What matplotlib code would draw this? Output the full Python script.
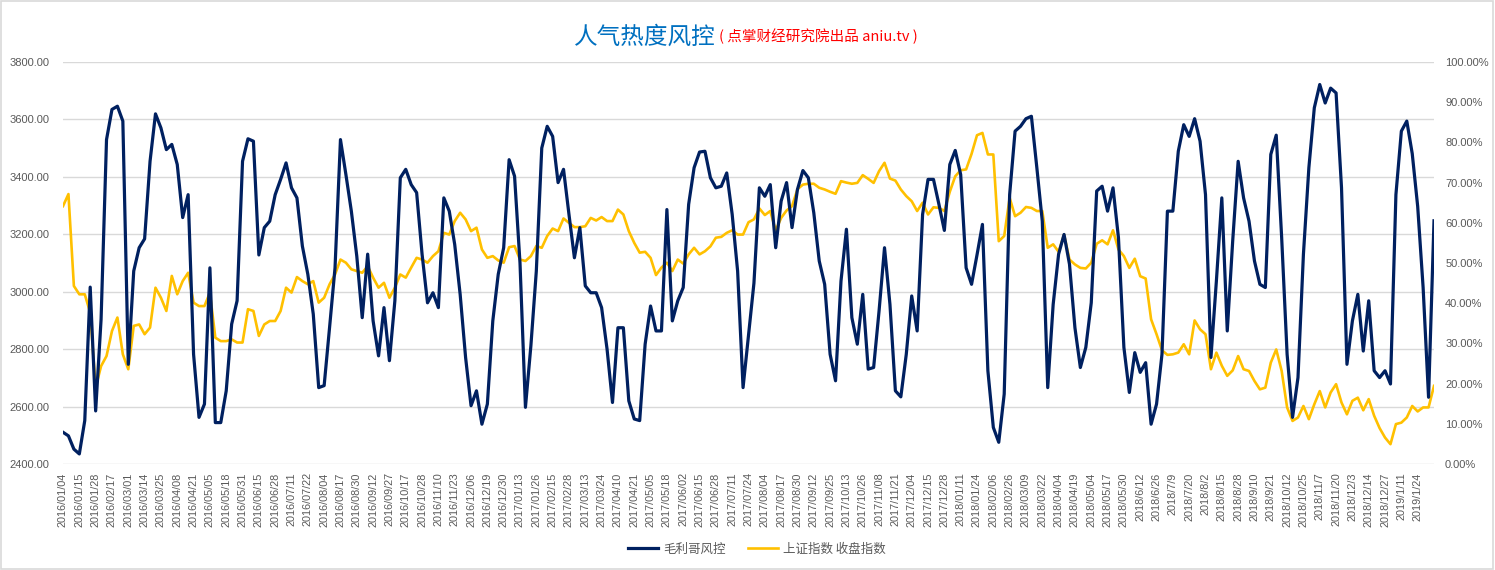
import numpy as np
import matplotlib
matplotlib.use("Agg")
import matplotlib.pyplot as plt
from matplotlib.ticker import PercentFormatter, FormatStrFormatter
from matplotlib.patches import Rectangle

plt.rcParams['font.family'] = ['Liberation Sans', 'Noto Sans CJK SC', 'DejaVu Sans']

# one value every 3 trading days, 2016/01/04 .. 2019/02
tick_labels = [
    "2016/01/04", "2016/01/15", "2016/01/28", "2016/02/17", "2016/03/01", "2016/03/14", "2016/03/25",
    "2016/04/08", "2016/04/21", "2016/05/05", "2016/05/18", "2016/05/31", "2016/06/15", "2016/06/28",
    "2016/07/11", "2016/07/22", "2016/08/04", "2016/08/17", "2016/08/30", "2016/09/12", "2016/09/27",
    "2016/10/17", "2016/10/28", "2016/11/10", "2016/11/23", "2016/12/06", "2016/12/19", "2016/12/30",
    "2017/01/13", "2017/01/26", "2017/02/15", "2017/02/28", "2017/03/13", "2017/03/24", "2017/04/10",
    "2017/04/21", "2017/05/05", "2017/05/18", "2017/06/02", "2017/06/15", "2017/06/28", "2017/07/11",
    "2017/07/24", "2017/08/04", "2017/08/17", "2017/08/30", "2017/09/12", "2017/09/25", "2017/10/13",
    "2017/10/26", "2017/11/08", "2017/11/21", "2017/12/04", "2017/12/15", "2017/12/28",
    "2018/01/11", "2018/01/24", "2018/02/06", "2018/02/26", "2018/03/09", "2018/03/22", "2018/04/04",
    "2018/04/19", "2018/05/04", "2018/05/17", "2018/05/30", "2018/6/12", "2018/6/26", "2018/7/9",
    "2018/7/20", "2018/8/2", "2018/8/15", "2018/8/28", "2018/9/10", "2018/9/21", "2018/10/12",
    "2018/10/25", "2018/11/7", "2018/11/20", "2018/12/3", "2018/12/14", "2018/12/27",
    "2019/1/11", "2019/1/24",
]

# 毛利哥风控 (right axis, %)
risk = [
    7.9, 7.0, 3.7, 2.5, 10.8, 44, 13.2, 36, 80.7, 88.2, 89.0, 85.3, 24.8, 48, 53.8, 56, 75.3, 87.1, 83.6, 78.2,
    79.5, 74.5, 61.3, 67, 27.3, 11.6, 14.9, 48.8, 10.3, 10.3, 18.2, 34.8, 40.6, 75.3, 80.9, 80.3, 52, 58.8, 60.4, 67,
    70.8, 74.9,
    68.7, 66.2, 54.2, 47.2, 37.3, 19.0, 19.5, 34.0, 48.8, 80.7, 72, 62.9, 51.7, 36.4, 52.2, 35.6, 26.9, 38.9, 25.7, 40.6,
    71.2, 73.3, 69.5, 67.5, 52.2, 40.1, 42.6, 38.9, 66.2, 62.9, 54.6, 42.2, 26.5, 14.5, 18.2, 9.9, 14.9, 35.6, 47.2, 53.8,
    75.7, 71.6,
    50, 14.1, 29.4, 48, 78.6, 84, 81.5, 70, 73.3, 62.1, 51.3, 58.8, 44.3, 42.6, 42.6, 38.9, 28.6, 15.3, 33.9, 33.9,
    15.7, 11.2, 10.8, 29.8, 39.3, 33.1, 33.1, 63.3, 35.6, 40.6, 43.9, 64.6, 73.7, 77.6, 77.8, 71.2, 68.7, 69.1, 72.4, 62.1,
    48, 19.0,
    32, 45, 68.7, 66.6, 69.5, 53.8, 65.4, 70, 58.8, 68.3, 73, 71.2, 62.5, 50.5, 44.7, 27.3, 20.7, 45.5, 58.4, 36.4,
    29.8, 42.2, 23.6, 24, 38.1, 53.8, 39.7, 18.2, 16.7, 27.3, 41.8, 33.1, 62.1, 70.8, 70.8, 64.6, 58.1, 74.5, 78, 72,
    48.8, 44.7,
    52, 59.6, 23.2, 9.1, 5.4, 17.4, 67, 82.8, 84, 85.9, 86.5, 73.7, 60.4, 19.0, 39.7, 52.2, 57.1, 49.7, 33.9, 24,
    29, 40.1, 67.9, 69.1, 62.9, 68.7, 56.3, 29, 17.8, 27.7, 22.8, 25.2, 9.9, 14.9, 27.3, 62.9, 62.9, 77.8, 84.4, 81.5,
    85.9, 80.3, 67,
    26.5, 45.5, 66.2, 33.1, 55.5, 75.3, 66.2, 60.4, 50.5, 44.7, 43.9, 77, 81.8, 56.3, 27.3, 11.6, 21.5, 52.2, 73.7, 88.6,
    94.4, 89.8, 93.5, 92.3, 68.7, 24.8, 35.6, 42.2, 28.1, 40.6, 23.2, 21.5, 23.2, 19.9, 67, 82.8, 85.3, 77.2, 64.1, 43.9,
    16.6, 60.5,
]

# 上证指数 收盘指数 (left axis)
sh_close = [
    3298, 3340, 3020, 2991, 2991, 2927, 2666, 2741, 2776, 2863, 2910, 2782, 2730, 2881, 2886, 2852, 2875, 3014, 2979, 2933,
    3055, 2991, 3037, 3066, 2962, 2950, 2950, 2997, 2840, 2828, 2828, 2834, 2823, 2823, 2939, 2933, 2846, 2886, 2898, 2898,
    2933, 3014,
    2997, 3051, 3037, 3026, 3037, 2962, 2979, 3026, 3060, 3112, 3101, 3078, 3072, 3066, 3089, 3049, 3014, 3031, 2979, 3014,
    3060, 3049, 3084, 3118, 3112, 3101, 3124, 3141, 3205, 3199, 3246, 3275, 3252, 3211, 3223, 3147, 3118, 3124, 3109, 3101,
    3155, 3159,
    3112, 3107, 3124, 3159, 3153, 3194, 3220, 3211, 3255, 3240, 3225, 3225, 3228, 3257, 3248, 3260, 3246, 3246, 3286, 3269,
    3211, 3170, 3136, 3139, 3118, 3058, 3084, 3101, 3072, 3112, 3098, 3130, 3153, 3130, 3141, 3158, 3188, 3191, 3205, 3214,
    3199, 3199,
    3242, 3252, 3290, 3267, 3281, 3213, 3257, 3283, 3298, 3357, 3373, 3376, 3376, 3362, 3356, 3348, 3341, 3385, 3380, 3376,
    3379, 3406, 3393, 3379, 3420, 3449, 3394, 3387, 3356, 3333, 3315, 3281, 3310, 3269, 3294, 3292, 3281, 3348, 3402, 3423,
    3426, 3480,
    3545, 3553, 3478, 3478, 3176, 3194, 3327, 3263, 3275, 3295, 3292, 3281, 3281, 3153, 3165, 3139, 3199, 3112, 3095, 3083,
    3081, 3101, 3167, 3179, 3165, 3214, 3147, 3124, 3083, 3115, 3054, 3046, 2904, 2852, 2796, 2780, 2782, 2788, 2817, 2782,
    2900, 2869, 2852,
    2730, 2788, 2742, 2707, 2726, 2776, 2730, 2724, 2689, 2660, 2666, 2753, 2799, 2724, 2597, 2550, 2562, 2602, 2556, 2608,
    2654, 2597, 2649, 2678, 2614, 2573, 2620, 2631, 2587, 2626, 2568, 2525, 2492, 2469, 2539, 2544, 2562, 2602, 2583, 2597,
    2597, 2672,
]

navy = "#002060"
gold = "#FFC000"
grey = "#595959"

x = np.arange(len(risk))

fig = plt.figure(figsize=(14.95, 5.70), dpi=100)
fig.patches.append(Rectangle((0.0005, 0.001), 0.998, 0.997, transform=fig.transFigure,
                             fill=False, edgecolor="#D9D9D9", lw=1.2))
ax = fig.add_axes([63 / 1495, 1 - 464 / 570, (1434 - 63) / 1495, (464 - 62) / 570])
ax2 = ax.twinx()

l2, = ax.plot(x, sh_close, color=gold, lw=1.9, label="上证指数 收盘指数")
l1, = ax2.plot(x, np.array(risk) / 100, color=navy, lw=2.3, label="毛利哥风控")

ax.set_xlim(0, len(x) - 1)
ax.set_ylim(2400, 3800)
ax.set_yticks(np.arange(2400, 3801, 200))
ax.yaxis.set_major_formatter(FormatStrFormatter("%.2f"))
ax2.set_ylim(0, 1)
ax2.set_yticks(np.linspace(0, 1, 11))
ax2.yaxis.set_major_formatter(PercentFormatter(1, decimals=2))

ax.set_xticks(x[::3][:len(tick_labels)])
ax.set_xticklabels(tick_labels, rotation=90)

ax.grid(axis="y", color="#D9D9D9", lw=1)
ax.set_axisbelow(True)
for a in (ax, ax2):
    for s in a.spines.values():
        s.set_visible(False)
    a.tick_params(length=0, labelsize=8, colors=grey)
ax.tick_params(axis="y", pad=10)
ax.tick_params(axis="x", pad=6, labelsize=7.8)
ax2.tick_params(axis="y", pad=8)

fig.text(716 / 1495, 1 - 44 / 570, "人气热度风控", color="#0070C0", fontsize=17,
         ha="right", va="baseline", family=["Noto Sans CJK SC"])
fig.text(719 / 1495, 1 - 41 / 570, "( 点掌财经研究院出品 aniu.tv )", color="#FF0000", fontsize=10.5,
         ha="left", va="baseline", family=["Noto Sans CJK SC", "DejaVu Sans"])

fig.legend(handles=[l1, l2], loc="center", bbox_to_anchor=(757 / 1495, 1 - 549 / 570), ncol=2,
           frameon=False, handlelength=2.4, columnspacing=1.8, handletextpad=0.4,
           labelcolor=grey, prop={"family": ["Noto Sans CJK SC"], "size": 9})

fig.savefig("out.png", dpi=100)
